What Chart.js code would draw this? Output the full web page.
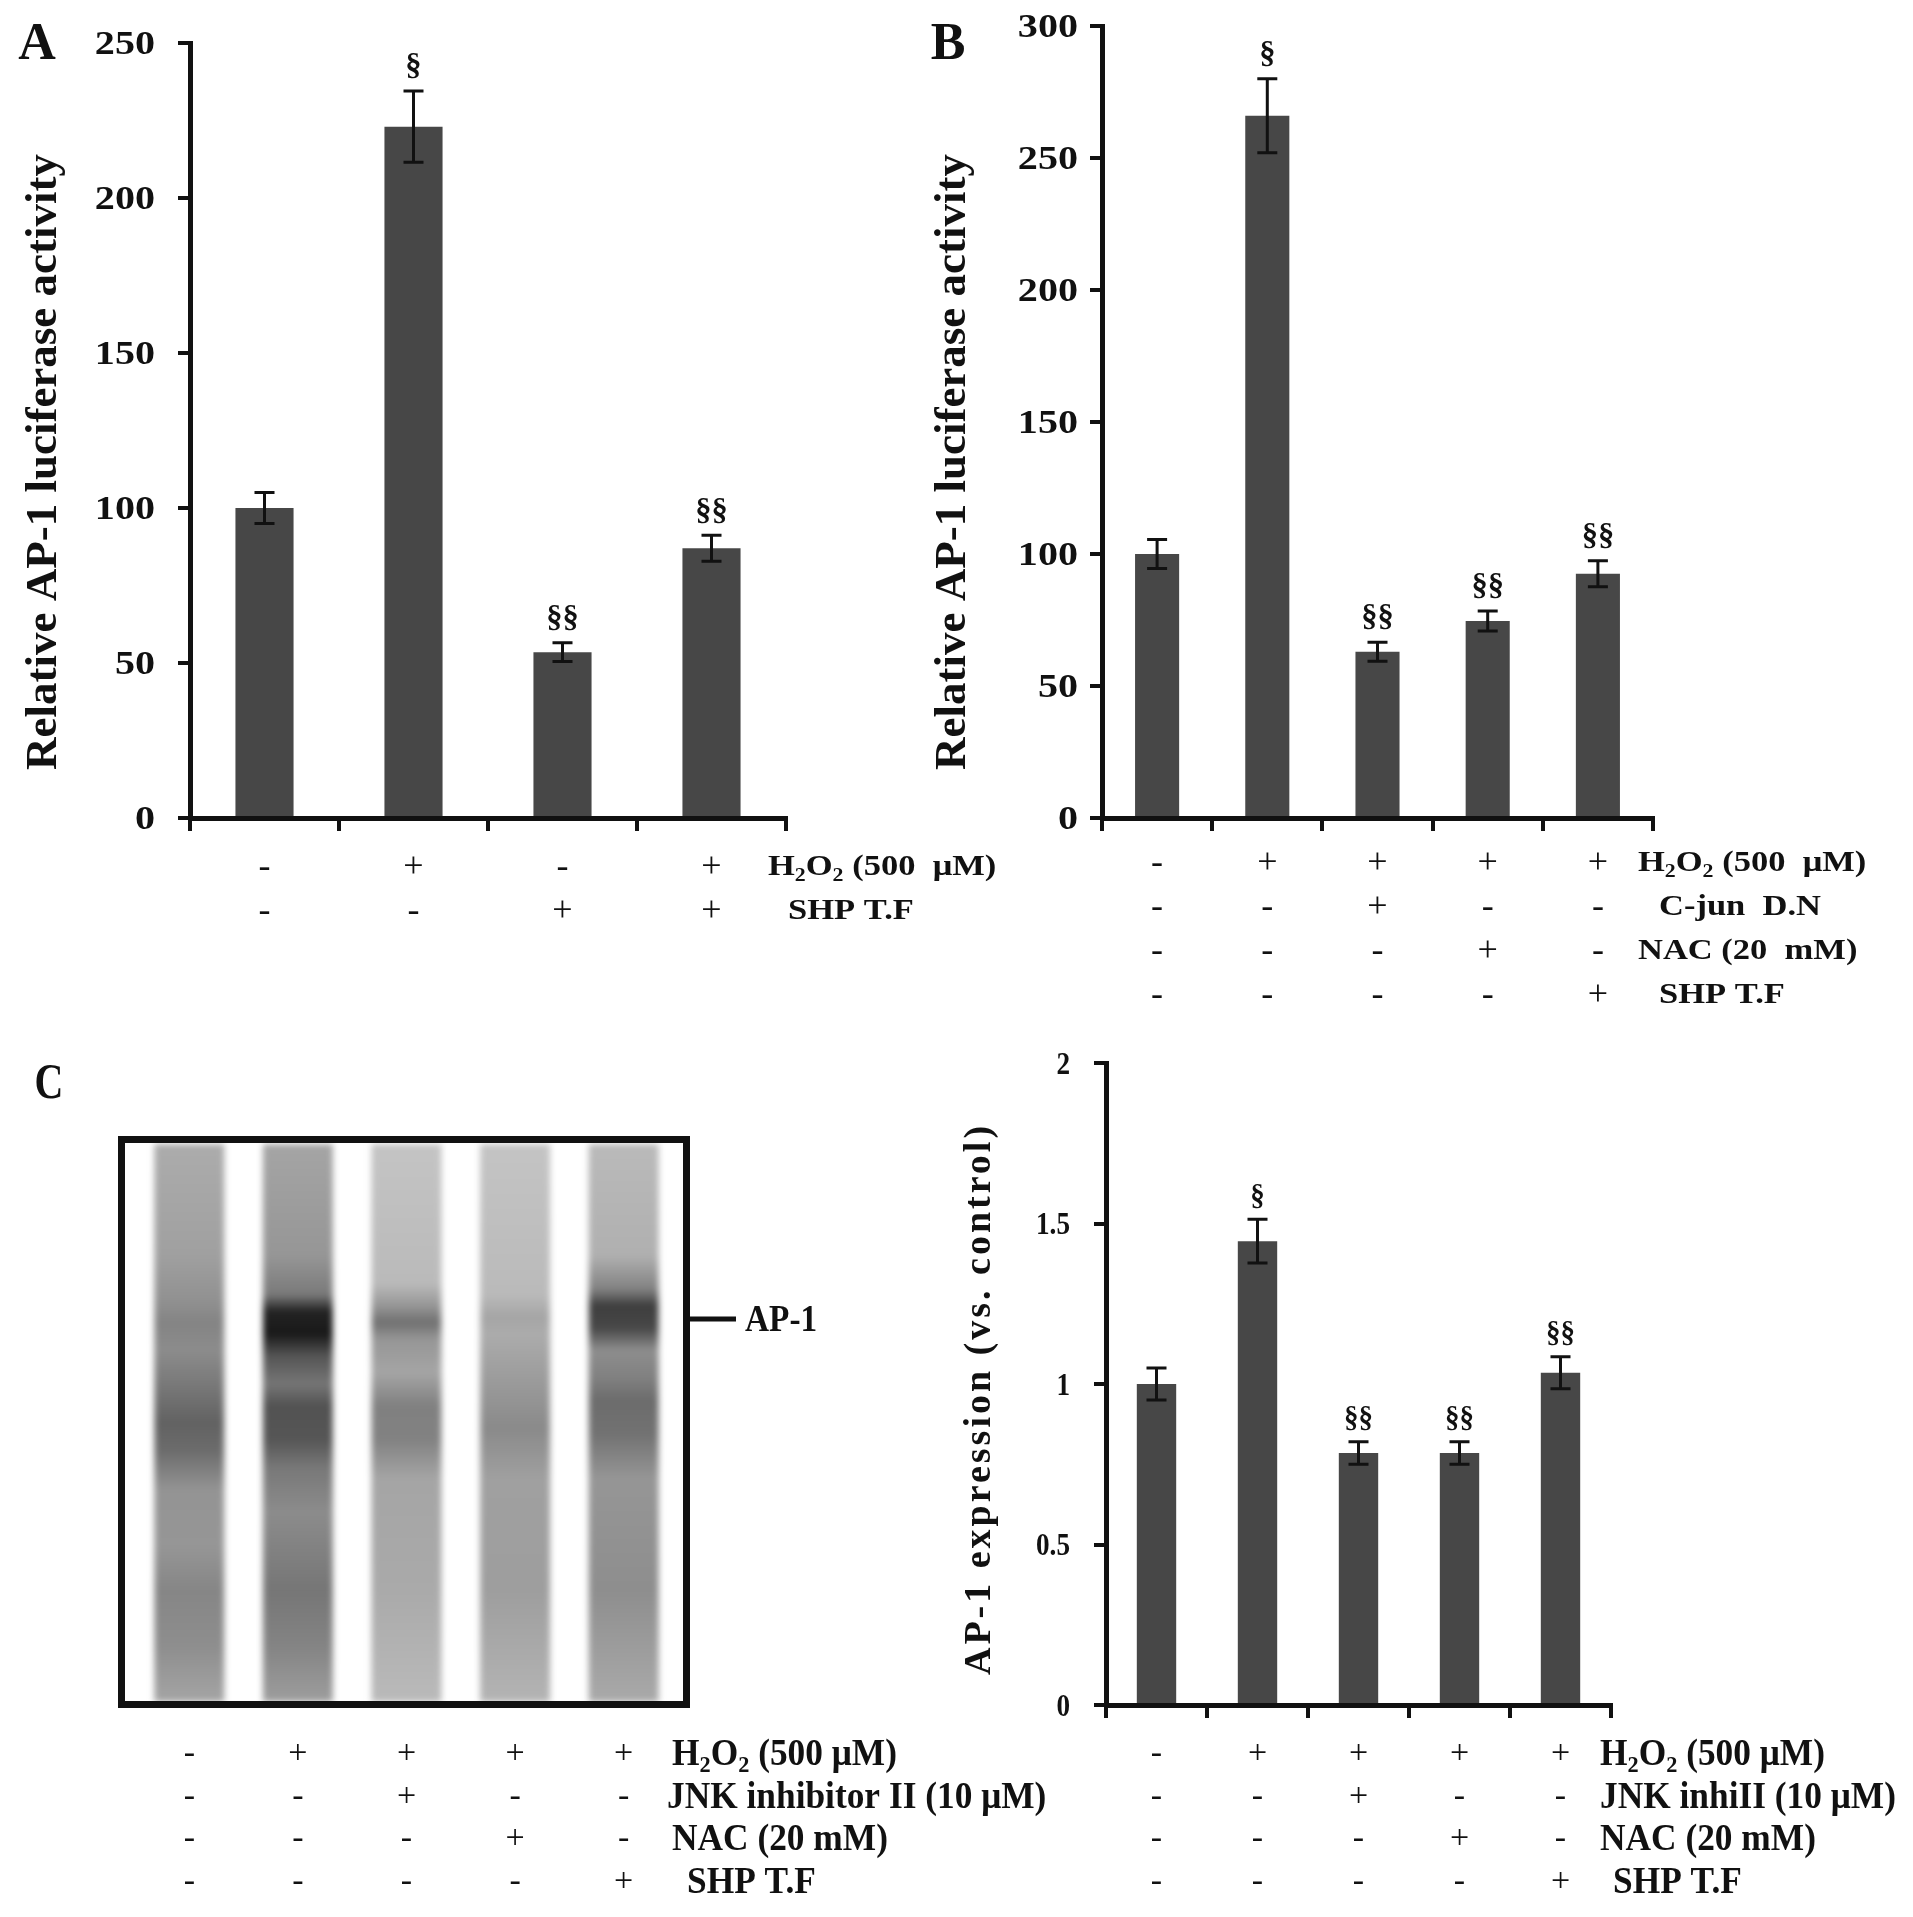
<!DOCTYPE html>
<html>
<head>
<meta charset="utf-8">
<title>AP-1 luciferase activity and expression</title>
<script src="https://cdn.jsdelivr.net/npm/chart.js@4.4.1/dist/chart.umd.min.js"></script>
<style>
html, body { margin: 0; padding: 0; background: #fff; }
#page { position: relative; width: 1913px; height: 1917px; overflow: hidden; background: #fff; }
#page canvas { position: absolute; }
</style>
</head>
<body>
<div id="page">
    <canvas id="chartA" width="1000" height="960" style="left:0;top:0"></canvas>
    <canvas id="chartB" width="993" height="1040" style="left:920px;top:0"></canvas>
    <canvas id="gel" width="1090" height="877" style="left:0;top:1040px"></canvas>
    <canvas id="chartC" width="993" height="877" style="left:920px;top:1040px"></canvas>
</div>
<script>
// ---- data, panel A ----
var catsA = ['ctrl', 'H2O2', 'SHP', 'H2O2+SHP'];
var barsA = [100, 223, 53.5, 87];
var errA = [5, 11.5, 3, 4.2];
var sigA = ['', '§', '§§', '§§'];
var ticksA = [0, 50, 100, 150, 200, 250];
var rowNamesA = ['H₂O₂ (500  μM)', 'SHP T.F'];
var rowSignsA = [
    ['-', '+', '-', '+'],
    ['-', '-', '+', '+']
];

// ---- data, panel B ----
var catsB = ['ctrl', 'H2O2', 'C-jun', 'NAC', 'SHP'];
var barsB = [100, 266, 63, 74.6, 92.5];
var errB = [5.5, 14, 3.6, 3.8, 4.9];
var sigB = ['', '§', '§§', '§§', '§§'];
var ticksB = [0, 50, 100, 150, 200, 250, 300];
var rowNamesB = ['H₂O₂ (500  μM)', 'C-jun  D.N', 'NAC (20  mM)', 'SHP T.F'];
var rowSignsB = [
    ['-', '+', '+', '+', '+'],
    ['-', '-', '+', '-', '-'],
    ['-', '-', '-', '+', '-'],
    ['-', '-', '-', '-', '+']
];

// ---- data, panel C (gel + densitometry) ----
var lanesC = ['1', '2', '3', '4', '5'];
var barsC = [1.0, 1.445, 0.785, 0.785, 1.035];
var errC = [0.05, 0.068, 0.035, 0.035, 0.05];
var sigC = ['', '§', '§§', '§§', '§§'];
var ticksC = [0, 0.5, 1, 1.5, 2];
var rowNamesGel = ['H₂O₂ (500 μM)', 'JNK inhibitor II (10 μM)', 'NAC (20 mM)', 'SHP T.F'];
var rowNamesC = ['H₂O₂ (500 μM)', 'JNK inhiII (10 μM)', 'NAC (20 mM)', 'SHP T.F'];
var rowSignsC = [
    ['-', '+', '+', '+', '+'],
    ['-', '-', '+', '-', '-'],
    ['-', '-', '-', '+', '-'],
    ['-', '-', '-', '-', '+']
];
// gel lane grey levels down the lane [fraction, grey]
var gelLanes = [
    [[0, 172], [0.2, 160], [0.28, 145], [0.32, 132], [0.37, 140], [0.44, 118], [0.5, 98], [0.55, 108], [0.62, 148], [0.72, 150], [0.8, 134], [0.9, 142], [1, 165]],
    [[0, 165], [0.2, 150], [0.27, 122], [0.3, 35], [0.34, 25], [0.38, 85], [0.43, 118], [0.47, 82], [0.53, 86], [0.58, 120], [0.66, 140], [0.8, 118], [0.9, 132], [1, 158]],
    [[0, 196], [0.25, 186], [0.29, 150], [0.32, 112], [0.35, 150], [0.41, 165], [0.47, 128], [0.53, 130], [0.6, 165], [0.8, 170], [1, 186]],
    [[0, 196], [0.27, 186], [0.31, 165], [0.34, 172], [0.44, 152], [0.51, 138], [0.6, 160], [0.8, 158], [1, 180]],
    [[0, 186], [0.2, 176], [0.26, 130], [0.29, 62], [0.33, 72], [0.37, 142], [0.42, 128], [0.46, 108], [0.52, 114], [0.6, 150], [0.8, 142], [1, 170]]
];

var SERIF = 'px "Liberation Serif", "Times New Roman", serif';
var INK = '#111';
var BAR = '#474747';

/*
* draw one text run, '₂' is drawn as a small lowered 2
* y is the visual middle of the capitals
*/
function drawText(ctx, s, x, y, st) {
    var size = st.size;
    var weight = (st.weight || 'bold') + ' ';
    var subSize = Math.round(size * 0.62);
    var parts = s.split('₂');
    ctx.save();
    ctx.translate(x, y);
    if (st.rot) ctx.rotate(st.rot);
    ctx.scale(st.sx || 1, 1);
    ctx.fillStyle = INK;
    ctx.textBaseline = 'alphabetic';
    ctx.textAlign = 'left';
    if (st.ls) ctx.letterSpacing = st.ls + 'px';
    var total = 0, i;
    ctx.font = weight + size + SERIF;
    for (i = 0; i < parts.length; i++) total += ctx.measureText(parts[i]).width;
    ctx.font = weight + subSize + SERIF;
    var subW = ctx.measureText('2').width;
    total += subW * (parts.length - 1);
    var cx = st.align === 'right' ? -total : (st.align === 'center' ? -total / 2 : 0);
    var base = size * 0.33;
    for (i = 0; i < parts.length; i++) {
        ctx.font = weight + size + SERIF;
        ctx.fillText(parts[i], cx, base);
        cx += ctx.measureText(parts[i]).width;
        if (i < parts.length - 1) {
            ctx.font = weight + subSize + SERIF;
            ctx.fillText('2', cx, base + size * 0.2);
            cx += subW;
        }
    }
    ctx.restore();
}

// +/- rows under the axis and their names at the right
function drawRows(ctx, chart, p) {
    var xs = chart.scales.x;
    var ca = chart.chartArea;
    for (var r = 0; r < p.rowSigns.length; r++) {
        var y = ca.bottom + p.rowY[r];
        for (var c = 0; c < p.rowSigns[r].length; c++) {
            drawText(ctx, p.rowSigns[r][c], xs.getPixelForValue(c), y, p.signStyle);
        }
        drawText(ctx, p.rowNames[r], ca.right + p.rowX[r], y, p.rowStyle);
    }
}

// plugin for one bar panel: error bars, marks, tick labels, rows, titles
function panelPlugin(p) {
    return {
        id: 'panel',
        afterDatasetsDraw: function(chart) {
            var ctx = chart.ctx;
            var ys = chart.scales.y;
            var meta = chart.getDatasetMeta(0);
            ctx.save();
            ctx.strokeStyle = INK;
            ctx.lineWidth = p.errWidth;
            for (var i = 0; i < meta.data.length; i++) {
                var x = meta.data[i].x;
                var yt = ys.getPixelForValue(p.values[i] + p.errors[i]);
                var yb = ys.getPixelForValue(p.values[i] - p.errors[i]);
                ctx.beginPath();
                ctx.moveTo(x, yt); ctx.lineTo(x, yb);
                ctx.moveTo(x - p.cap, yt); ctx.lineTo(x + p.cap, yt);
                ctx.moveTo(x - p.cap, yb); ctx.lineTo(x + p.cap, yb);
                ctx.stroke();
                if (p.sig[i]) drawText(ctx, p.sig[i], x, yt - p.sigGap, p.sigStyle);
            }
            ctx.restore();
        },
        afterDraw: function(chart) {
            var ctx = chart.ctx;
            var ys = chart.scales.y;
            var ca = chart.chartArea;
            for (var i = 0; i < p.ticks.length; i++) {
                drawText(ctx, String(p.ticks[i]), ca.left - p.tickGap, ys.getPixelForValue(p.ticks[i]), p.tickStyle);
            }
            drawRows(ctx, chart, p);
            drawText(ctx, p.title, p.titleX, p.titleY, p.titleStyle);
            if (p.letter) drawText(ctx, p.letter, p.letterX, p.letterY, p.letterStyle);
        }
    };
}

function makeBarPanel(id, p) {
    var canvas = document.getElementById(id);
    var W = canvas.width, H = canvas.height;
    return new Chart(canvas, {
        type: 'bar',
        data: {
            labels: p.cats,
            datasets: [{
                data: p.values,
                backgroundColor: BAR,
                borderWidth: 0,
                barPercentage: p.barPct,
                categoryPercentage: 1
            }]
        },
        options: {
            responsive: false,
            animation: false,
            events: [],
            layout: { padding: { left: 0, top: p.area.t, right: W - p.area.r, bottom: 0 } },
            plugins: { legend: { display: false }, tooltip: { enabled: false } },
            scales: {
                x: {
                    type: 'category',
                    offset: true,
                    grid: { offset: true, drawOnChartArea: false, drawTicks: true, tickLength: 13, color: INK, lineWidth: 4 },
                    border: { display: true, color: INK, width: 5 },
                    ticks: { display: false },
                    afterFit: function(scale) { scale.height = H - p.area.b; }
                },
                y: {
                    min: 0,
                    max: p.ticks[p.ticks.length - 1],
                    grid: { drawOnChartArea: false, drawTicks: true, tickLength: 12, color: INK, lineWidth: 4 },
                    border: { display: true, color: INK, width: 5 },
                    ticks: { display: false },
                    afterBuildTicks: function(scale) {
                        scale.ticks = p.ticks.map(function(v) { return { value: v }; });
                    },
                    afterFit: function(scale) { scale.width = p.area.l; }
                }
            }
        },
        plugins: [panelPlugin(p)]
    });
}

var styleAB = {
    tick: { size: 34, sx: 1.18, align: 'right' },
    sign: { size: 36, weight: 'normal', sx: 1, align: 'center' },
    row: { size: 30, sx: 1.15, align: 'left' },
    sig: { size: 31, sx: 1.05, align: 'center' },
    title: { size: 45, rot: -Math.PI / 2, align: 'center' },
    letter: { size: 52, align: 'center' }
};

makeBarPanel('chartA', {
    cats: catsA, values: barsA, errors: errA, sig: sigA, ticks: ticksA,
    rowNames: rowNamesA, rowSigns: rowSignsA,
    area: { l: 190, t: 43, r: 786, b: 818 },
    barPct: 0.39, errWidth: 3, cap: 10, sigGap: 26, tickGap: 35,
    rowY: [47, 91], rowX: [-18, 2],
    title: 'Relative AP-1 luciferase activity', titleX: 41, titleY: 462,
    letter: 'A', letterX: 37, letterY: 42,
    tickStyle: styleAB.tick, signStyle: styleAB.sign, rowStyle: styleAB.row,
    sigStyle: styleAB.sig, titleStyle: styleAB.title, letterStyle: styleAB.letter
});

makeBarPanel('chartB', {
    cats: catsB, values: barsB, errors: errB, sig: sigB, ticks: ticksB,
    rowNames: rowNamesB, rowSigns: rowSignsB,
    area: { l: 182, t: 26, r: 733, b: 818 },
    barPct: 0.4, errWidth: 3, cap: 10, sigGap: 26, tickGap: 24,
    rowY: [43, 87, 131, 175], rowX: [-15, 6, -15, 6],
    title: 'Relative AP-1 luciferase activity', titleX: 30, titleY: 462,
    letter: 'B', letterX: 28, letterY: 42,
    tickStyle: styleAB.tick, signStyle: styleAB.sign, rowStyle: styleAB.row,
    sigStyle: styleAB.sig, titleStyle: styleAB.title, letterStyle: styleAB.letter
});

var styleC = {
    tick: { size: 32, sx: 0.85, align: 'right' },
    sign: { size: 34, weight: 'normal', sx: 1, align: 'center' },
    row: { size: 38, sx: 0.93, align: 'left' },
    sig: { size: 29, sx: 1, align: 'center' },
    title: { size: 38, rot: -Math.PI / 2, align: 'center', ls: 3 }
};

makeBarPanel('chartC', {
    cats: lanesC, values: barsC, errors: errC, sig: sigC, ticks: ticksC,
    rowNames: rowNamesC, rowSigns: rowSignsC,
    area: { l: 186, t: 23, r: 691, b: 665 },
    barPct: 0.39, errWidth: 3, cap: 10, sigGap: 24, tickGap: 36,
    rowY: [47, 90, 132, 175], rowX: [-11, -11, -11, 2],
    title: 'AP-1 expression (vs. control)', titleX: 57, titleY: 359,
    letter: '', tickStyle: styleC.tick, signStyle: styleC.sign, rowStyle: styleC.row,
    sigStyle: styleC.sig, titleStyle: styleC.title
});

// ---- gel picture, lanes placed on a category scale ----
var gelLayout = {
    rowSigns: rowSignsC, rowNames: rowNamesGel,
    rowY: [44, 87, 129, 172], rowX: [-6, -11, -6, 9],
    signStyle: styleC.sign, rowStyle: styleC.row,
    box: { l: 118, t: 96, r: 690, b: 668 }, laneW: 70
};

var gelPlugin = {
    id: 'gelImage',
    afterDraw: function(chart) {
        var ctx = chart.ctx;
        var xs = chart.scales.x;
        var g = gelLayout, b = g.box;
        var top = b.t + 8, bottom = b.b - 6;
        ctx.save();
        ctx.filter = 'blur(3px)';
        for (var i = 0; i < gelLanes.length; i++) {
            var x = xs.getPixelForValue(i);
            var grad = ctx.createLinearGradient(0, top, 0, bottom);
            gelLanes[i].forEach(function(s) {
                grad.addColorStop(s[0], 'rgb(' + s[1] + ',' + s[1] + ',' + s[1] + ')');
            });
            ctx.fillStyle = grad;
            ctx.fillRect(x - g.laneW / 2, top, g.laneW, bottom - top);
        }
        ctx.restore();
        // frame
        ctx.save();
        ctx.strokeStyle = INK;
        ctx.lineWidth = 7;
        ctx.strokeRect(b.l + 3.5, b.t + 3.5, b.r - b.l - 7, b.b - b.t - 7);
        // AP-1 marker
        ctx.lineWidth = 5;
        ctx.beginPath();
        ctx.moveTo(b.r, 279); ctx.lineTo(b.r + 46, 279);
        ctx.stroke();
        ctx.restore();
        drawText(ctx, 'AP-1', b.r + 55, 279, { size: 37, sx: 0.9, align: 'left' });
        drawText(ctx, 'C', 49, 41, { size: 50, sx: 0.8, align: 'center' });
        drawRows(ctx, chart, g);
    }
};

new Chart(document.getElementById('gel'), {
    type: 'bar',
    data: { labels: lanesC, datasets: [{ data: [] }] },
    options: {
        responsive: false,
        animation: false,
        events: [],
        layout: { padding: { left: 135, top: 96, right: 1090 - 678, bottom: 877 - 668 } },
        plugins: { legend: { display: false }, tooltip: { enabled: false } },
        scales: {
            x: { type: 'category', offset: true, display: false },
            y: { display: false, min: 0, max: 1 }
        }
    },
    plugins: [gelPlugin]
});
</script>
</body>
</html>
